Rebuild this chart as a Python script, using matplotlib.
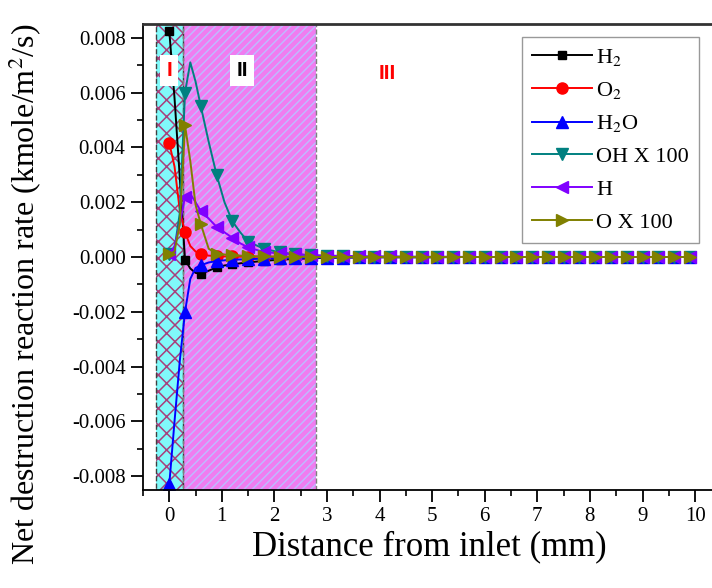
import numpy as np
import matplotlib
matplotlib.use("Agg")
import matplotlib.pyplot as plt
from matplotlib.ticker import MultipleLocator, FormatStrFormatter

plt.rcParams['font.family'] = ['Liberation Serif', 'DejaVu Serif']
plt.rcParams['mathtext.fontset'] = 'stix'
plt.rcParams['axes.unicode_minus'] = False
plt.rcParams['hatch.linewidth'] = 1.1

# distance from inlet (mm)
x_mm = [0, 0.1, 0.2, 0.3, 0.4, 0.5, 0.6, 0.75, 0.9, 1.05, 1.2, 1.35, 1.5,
        1.8, 2.1, 2.4, 2.7, 3.0, 3.3, 3.6, 3.9, 4.2, 4.5, 4.8, 5.1, 5.4,
        5.7, 6.0, 6.3, 6.6, 6.9, 7.2, 7.5, 7.8, 8.1, 8.4, 8.7, 9.0, 9.3,
        9.6, 9.9]
# grid points that carry a symbol
mark_idx = [0, 3, 6, 8, 10, 12] + list(range(13, 41))

h2 = [0.00826, 0.0058, 0.0029, -0.0001, -0.00042, -0.00058, -0.00062, -0.0005,
      -0.00038, -0.00031, -0.00027, -0.00023, -0.0002, -0.00014, -0.0001,
      -0.00007, -0.00005, -0.00003,
      -0.00002, -0.00002, -0.00001, -0.00001, -0.00001, -0.00001, -0.00001,
      0, 0, 0, 0, 0, 0, 0, 0, 0, 0, 0, 0, 0, 0, 0, 0]
o2 = [0.00416, 0.0033, 0.0017, 0.0009, 0.0004, 0.0002, 0.0001, 0.00005,
      0.00003, 0.00002, 0.00002, 0.00001, 0.00001, 0.00001, 0.00001, 0, 0, 0,
      0, 0, 0, 0, 0, 0, 0, 0, 0, 0, 0, 0, 0, 0, 0, 0, 0, 0, 0, 0, 0, 0, 0]
h2o = [-0.0083, -0.006, -0.0038, -0.002, -0.0008, -0.0004, -0.0003, -0.0002,
       -0.00015, -0.00012, -0.0001, -0.00009, -0.00008, -0.00006, -0.00005,
       -0.00004, -0.00003, -0.00002,
       -0.00002, -0.00001, -0.00001, -0.00001, -0.00001, -0.00001, -0.00001,
       0, 0, 0, 0, 0, 0, 0, 0, 0, 0, 0, 0, 0, 0, 0, 0]
oh_x100 = [0.0001, 0.0003, 0.0016, 0.006, 0.0071, 0.0064, 0.0055, 0.0042,
           0.003, 0.002, 0.0013, 0.0009, 0.00056, 0.0003, 0.00017, 0.0001,
           0.00006, 0.00003,
           0.00002, 0.00001, 0.00001, 0.00001, 0.00001,
           0, 0, 0, 0, 0, 0, 0, 0, 0, 0, 0, 0, 0, 0, 0, 0, 0, 0]
h = [0.0001, 0.0004, 0.0012, 0.0022, 0.0023, 0.002, 0.00167, 0.0014, 0.0011,
     0.0009, 0.0007, 0.0005, 0.00035, 0.00018, 0.00013, 0.0001, 0.00007,
     0.00005,
     0.00004, 0.00003, 0.00002, 0.00002, 0.00001, 0.00001, 0.00001, 0.00001,
     0, 0, 0, 0, 0, 0, 0, 0, 0, 0, 0, 0, 0, 0, 0]
o_x100 = [0.0001, 0.0002, 0.0012, 0.0048, 0.0035, 0.0019, 0.0012, 0.0003,
          0.00012, 0.00009, 0.00007, 0.00005, 0.00003, 0.00002, 0.00001,
          0.00001, 0, 0,
          0, 0, 0, 0, 0, 0, 0, 0, 0, 0, 0, 0, 0, 0, 0, 0, 0, 0, 0, 0, 0, 0, 0]

labels = ['H$_2$', 'O$_2$', 'H$_2$O', 'OH X 100', 'H', 'O X 100']
colors = ['black', '#FF0000', '#0000FF', '#008080', '#8000FF', '#808000']
markers = ['s', 'o', '^', 'v', '<', '>']
msizes = [6, 8, 8.5, 8.5, 8.5, 8.5]
series = [h2, o2, h2o, oh_x100, h, o_x100]

fig = plt.figure(figsize=(7.12, 5.88), dpi=100)
ax = fig.add_axes([0.2008, 0.1667, 0.805, 0.7925])

# flame zones
ax.axvspan(-0.25, 0.27, facecolor='#80FAFA', edgecolor='#A8407C', hatch='xx',
           linewidth=0, zorder=0)
ax.axvspan(-0.25, 0.27, facecolor='none', edgecolor='#404040', linestyle='--',
           linewidth=1.0, zorder=0.5)
ax.axvspan(0.27, 2.8, facecolor='#F07CF0', edgecolor='#C0B8FF', hatch='////',
           linewidth=0, zorder=0)
ax.axvspan(0.27, 2.8, facecolor='none', edgecolor='#808080', linestyle='--',
           linewidth=1.0, zorder=0.5)

for y, lab, c, m, ms in zip(series, labels, colors, markers, msizes):
    ax.plot(x_mm, y, color=c, marker=m, markevery=mark_idx, markersize=ms,
            linewidth=1.4, label=lab)

ax.text(0.0, 0.0068, 'I', color='#FF0000', fontsize=15, fontweight='bold',
        family='Liberation Sans', ha='center', va='center',
        bbox=dict(boxstyle='square,pad=0.3', facecolor='white', edgecolor='none'))
ax.text(1.39, 0.0068, 'II', color='black', fontsize=15, fontweight='bold',
        family='Liberation Sans', ha='center', va='center',
        bbox=dict(boxstyle='square,pad=0.3', facecolor='white', edgecolor='none'))
ax.text(4.14, 0.0067, 'III', color='#FF0000', fontsize=15, fontweight='bold',
        family='Liberation Sans', ha='center', va='center')

ax.set_xlim(-0.5, 10.4)
ax.set_ylim(-0.0085, 0.0085)
ax.xaxis.set_major_locator(MultipleLocator(1))
ax.xaxis.set_minor_locator(MultipleLocator(0.5))
ax.yaxis.set_major_locator(MultipleLocator(0.002))
ax.yaxis.set_minor_locator(MultipleLocator(0.001))
ax.yaxis.set_major_formatter(FormatStrFormatter('%.3f'))
ax.tick_params(which='major', direction='out', length=8.5, width=1.3,
               labelsize=15, pad=4)
ax.tick_params(which='minor', direction='out', length=4.5, width=1.2)
for sp in ax.spines.values():
    sp.set_linewidth(1.3)
ax.spines['top'].set_color('#333333')
ax.spines['top'].set_linewidth(2)

ax.set_xlabel('Distance from inlet (mm)', fontsize=25, labelpad=3)
ax.set_ylabel('Net destruction reaction rate (kmole/m$^2$/s)', fontsize=23)
ax.yaxis.set_label_coords(-0.172, 0.42)

leg = ax.legend(loc='upper left', bbox_to_anchor=(0.661, 0.972), fontsize=16,
                frameon=True, fancybox=False, edgecolor='#808080',
                handlelength=2.7, handletextpad=0.2, labelspacing=0.55,
                borderpad=0.45, borderaxespad=0)
leg.get_frame().set_linewidth(1.0)

fig.savefig('out.png', dpi=100)
